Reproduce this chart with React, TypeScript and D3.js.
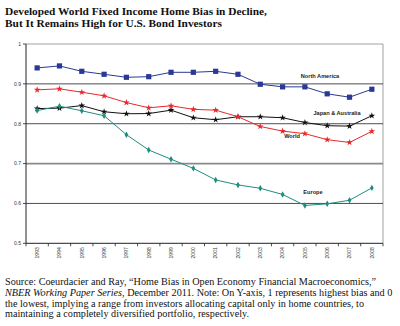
import React from "react";
import * as d3 from "d3";

const years = ["1993","1994","1995","1996","1997","1998","1999","2000","2001","2002","2003","2004","2005","2006","2007","2008"];
const northAmerica = [0.94,0.945,0.9315,0.924,0.9165,0.918,0.929,0.929,0.9315,0.924,0.899,0.8925,0.8925,0.875,0.8665,0.8865];
const world = [0.885,0.8875,0.879,0.87,0.853,0.84,0.845,0.836,0.834,0.8175,0.793,0.7815,0.775,0.76,0.753,0.781];
const japanAustralia = [0.838,0.839,0.8455,0.83,0.825,0.8255,0.834,0.815,0.81,0.8175,0.8175,0.815,0.803,0.795,0.794,0.82];
const europe = [0.833,0.844,0.8325,0.82,0.7725,0.734,0.711,0.688,0.659,0.6465,0.638,0.6225,0.595,0.599,0.608,0.639];
const yTicks = [0.5,0.6,0.7,0.8,0.9,1];
const yTickLabels = ["0.5","0.6","0.7","0.8","0.9","1"];

const titleLines = [
  "Developed World Fixed Income Home Bias in Decline,",
  "But It Remains High for U.S. Bond Investors",
];

const series = [
  { name: "North America", values: northAmerica, color: "#2a3a94", marker: "square", label: [320, 78] },
  { name: "Japan & Australia", values: japanAustralia, color: "#111111", marker: "star", label: [337, 115] },
  { name: "World", values: world, color: "#e8282c", marker: "star", label: [292, 138] },
  { name: "Europe", values: europe, color: "#1f8c80", marker: "diamond", label: [313, 194] },
];

export default function App() {
  const left = 26, right = 383, top = 44, bottom = 243.3;
  const x = d3.scaleBand<string>().domain(years).range([left, right]);
  const y = d3.scaleLinear().domain([0.5, 1]).range([bottom, top]);
  const cx = (yr: string) => (x(yr) as number) + x.bandwidth() / 2;
  const line = d3.line<number>().x((_, i) => cx(years[i])).y((v) => y(v));
  const star = d3.symbol().type(d3.symbolStar).size(14)();
  const diamond = d3.symbol().type(d3.symbolDiamond).size(12)();
  const boundaries = years.map((yr) => x(yr) as number).concat([right]);

  return (
    <svg width={400} height={326} style={{ position: "absolute", left: 0, top: 0, background: "#fff" }}>
      <rect x={0} y={0} width={400} height={326} fill="#fff" />
      {titleLines.map((t, i) => (
        <text key={i} x={5} y={15.3 + i * 12} fontFamily="Liberation Serif" fontWeight="bold" fontSize={11.35} fill="#111">{t}</text>
      ))}
      <line x1={left} x2={right} y1={top} y2={top} stroke="#a0a0a0" strokeWidth={1} />
      <line x1={right} x2={right} y1={top} y2={bottom} stroke="#a0a0a0" strokeWidth={1} />
      {yTicks.filter((t) => t > 0.5 && t < 1).map((t) => (
        <line key={t} x1={left} x2={right} y1={y(t)} y2={y(t)}
          stroke={t === 0.7 ? "#8a8a8a" : "#222"} strokeWidth={t === 0.7 ? 1.6 : 0.8} />
      ))}
      <line x1={left} x2={left} y1={top} y2={bottom} stroke="#222" strokeWidth={1} />
      <line x1={left} x2={right} y1={bottom} y2={bottom} stroke="#222" strokeWidth={1} />
      {yTicks.map((t, i) => (
        <g key={t}>
          <line x1={left - 3} x2={left} y1={y(t)} y2={y(t)} stroke="#222" strokeWidth={0.8} />
          <text x={left - 5} y={y(t) + 1.8} textAnchor="end" fontFamily="Liberation Sans" fontSize={5} fill="#333">{yTickLabels[i]}</text>
        </g>
      ))}
      {boundaries.map((b, i) => (
        <line key={i} x1={b} x2={b} y1={bottom} y2={bottom + 3} stroke="#222" strokeWidth={0.8} />
      ))}
      {years.map((yr) => (
        <text key={yr} transform={`translate(${cx(yr) + 1.8},${bottom + 4}) rotate(-90)`} textAnchor="end"
          fontFamily="Liberation Sans" fontSize={5} fill="#333">{yr}</text>
      ))}
      {series.map((s) => (
        <g key={s.name}>
          <path d={line(s.values) as string} fill="none" stroke={s.color} strokeWidth={1} />
          {s.values.map((v, i) => {
            const px = cx(years[i]), py = y(v);
            if (s.marker === "square")
              return <rect key={i} x={px - 2.6} y={py - 2.6} width={5.2} height={5.2} fill={s.color} />;
            return <path key={i} d={(s.marker === "star" ? star : diamond) as string} transform={`translate(${px},${py})`} fill={s.color} />;
          })}
          <text x={s.label[0]} y={s.label[1]} textAnchor="middle" fontFamily="Liberation Sans" fontWeight="bold" fontSize={5.6} fill="#222">{s.name}</text>
        </g>
      ))}
      <text fontFamily="Liberation Serif" fontSize={10.2} fill="#111">
        <tspan x={5} y={285}>Source: Coeurdacier and Ray, “Home Bias in Open Economy Financial Macroeconomics,”</tspan>
        <tspan x={5} y={295.8}><tspan fontStyle="italic">NBER Working Paper Series</tspan>, December 2011. Note: On Y-axis, 1 represents highest bias and 0</tspan>
        <tspan x={5} y={306.6}>the lowest, implying a range from investors allocating capital only in home countries, to</tspan>
        <tspan x={5} y={317.4}>maintaining a completely diversified portfolio, respectively.</tspan>
      </text>
    </svg>
  );
}
